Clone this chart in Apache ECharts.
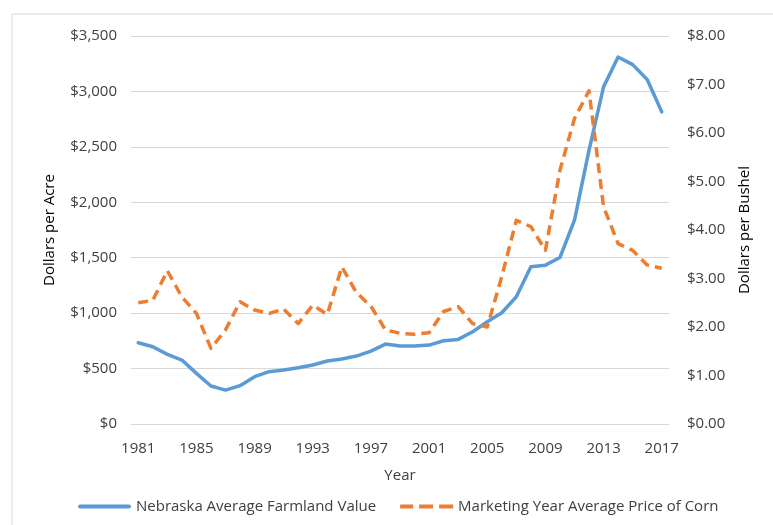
<!DOCTYPE html>
<html>
  <head>
    <meta charset="UTF-8" />
    <title>Nebraska Farmland Value vs Corn Price</title>
    <style>
      html, body { margin: 0; padding: 0; background: #fff; }
      #chart { width: 773px; height: 525px; }
    </style>
    <script type="text/javascript" src="https://cdn.jsdelivr.net/npm/echarts@6/dist/echarts.min.js"></script>
  </head>
  <body>
    <div id="chart"></div>
    <script>
      var years = [];
      for (var y = 1981; y <= 2017; y++) years.push(String(y));

      // Nebraska average farmland value, $ per acre
      var farmland = [
        733, 697, 628, 577, 457, 343, 306, 346, 427, 472,
        487, 508, 532, 568, 586, 613, 658, 721, 703, 703,
        712, 751, 763, 832, 922, 1004, 1148, 1418, 1433, 1502,
        1839, 2470, 3041, 3311, 3242, 3107, 2816
      ];

      // Marketing year average price of corn, $ per bushel
      var cornPrice = [
        2.50, 2.55, 3.16, 2.62, 2.28, 1.56, 1.94, 2.52, 2.35, 2.28,
        2.37, 2.07, 2.45, 2.26, 3.24, 2.71, 2.43, 1.94, 1.87, 1.85,
        1.88, 2.32, 2.42, 2.07, 2.00, 3.04, 4.20, 4.07, 3.58, 5.23,
        6.30, 6.87, 4.48, 3.72, 3.58, 3.28, 3.21
      ];

      var font = "'Open Sans', sans-serif";
      var textColor = "#404040";

      // legend icons: solid bar and three dashes
      var solidIcon = "path://M2,0h49a2,2 0 0 1 0,4h-49a2,2 0 0 1 0,-4z";
      var dashIcon = "path://M0,0h13v4h-13z M19,0h14v4h-14z M39,0h14v4h-14z";

      var myChart = echarts.init(document.getElementById("chart"));

      var option = {
        animation: false,
        textStyle: { fontFamily: font },
        graphic: [
          {
            type: "rect",
            shape: { x: 12, y: 14, width: 800, height: 600 },
            style: { fill: "none", stroke: "#d9d9d9", lineWidth: 1 },
            silent: true
          }
        ],
        grid: { left: 131, right: 104, top: 36, bottom: 101 },
        legend: {
          bottom: 6,
          left: 73,
          itemWidth: 53,
          itemHeight: 4,
          itemGap: 24,
          textStyle: { fontFamily: font, fontSize: 15, color: textColor },
          data: [
            { name: "Nebraska Average Farmland Value", icon: solidIcon },
            { name: "Marketing Year Average Price of Corn", icon: dashIcon }
          ]
        },
        xAxis: {
          type: "category",
          data: years,
          boundaryGap: true,
          name: "Year",
          nameLocation: "middle",
          nameGap: 44,
          nameTextStyle: { fontFamily: font, fontSize: 15, color: textColor },
          axisLine: { show: false },
          axisTick: { show: false },
          axisLabel: {
            interval: 3,
            margin: 17,
            fontFamily: font,
            fontSize: 15,
            color: textColor
          }
        },
        yAxis: [
          {
            type: "value",
            min: 0,
            max: 3500,
            interval: 500,
            name: "Dollars per Acre",
            nameLocation: "middle",
            nameGap: 74,
            nameTextStyle: { fontFamily: font, fontSize: 15, color: "#000" },
            axisLabel: {
              margin: 14,
              fontFamily: font,
              fontSize: 15,
              color: textColor,
              formatter: function (v) {
                return "$" + v.toLocaleString("en-US");
              }
            },
            splitLine: { lineStyle: { color: "#d9d9d9", width: 1 } }
          },
          {
            type: "value",
            min: 0,
            max: 8,
            interval: 1,
            name: "Dollars per Bushel",
            nameLocation: "middle",
            nameGap: 68,
            nameTextStyle: { fontFamily: font, fontSize: 15, color: "#000" },
            axisLabel: {
              margin: 18,
              fontFamily: font,
              fontSize: 15,
              color: textColor,
              formatter: function (v) {
                return "$" + v.toFixed(2);
              }
            },
            splitLine: { show: false }
          }
        ],
        series: [
          {
            name: "Nebraska Average Farmland Value",
            type: "line",
            yAxisIndex: 0,
            data: farmland,
            showSymbol: false,
            symbol: "none",
            itemStyle: { color: "#5b9bd5" },
            lineStyle: { color: "#5b9bd5", width: 3.5, cap: "round", join: "round" }
          },
          {
            name: "Marketing Year Average Price of Corn",
            type: "line",
            yAxisIndex: 1,
            data: cornPrice,
            showSymbol: false,
            symbol: "none",
            itemStyle: { color: "#ed7d31" },
            lineStyle: { color: "#ed7d31", width: 3.5, type: [10, 6], join: "round" }
          }
        ]
      };

      myChart.setOption(option);
    </script>
  </body>
</html>
